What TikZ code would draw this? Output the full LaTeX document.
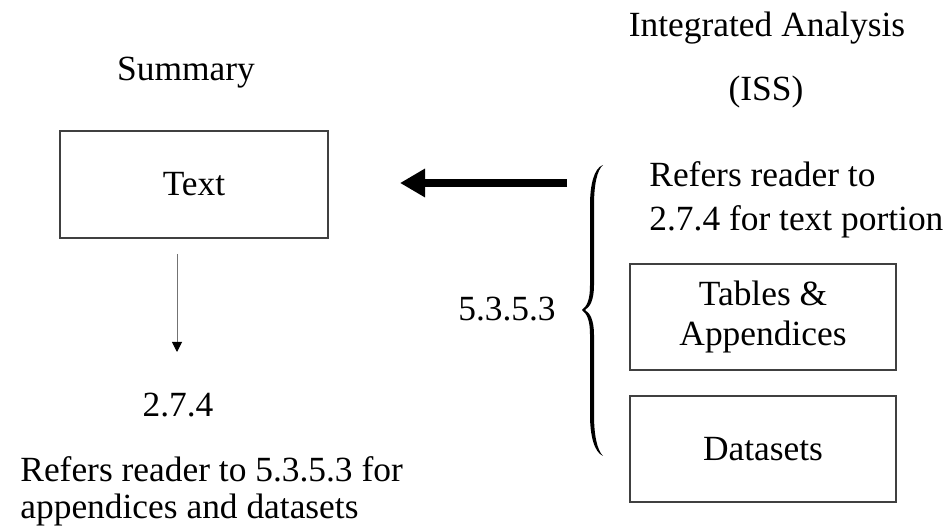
\documentclass[tikz,border=0pt]{standalone}
\usepackage{fontspec}
\setmainfont{Liberation Serif}
\usetikzlibrary{arrows.meta}
\tikzset{
  lbl/.style={inner sep=0pt, font=\fontsize{17.7pt}{22pt}\selectfont},
  boxnode/.style={draw=black!75, line width=0.75pt, inner sep=0pt, align=center,
    font=\fontsize{17.7pt}{20pt}\selectfont},
  thinarrow/.style={draw=black!55, line width=0.5pt, -{Triangle[length=5pt,width=5pt,fill=black,color=black]}},
  thickarrow/.style={line width=4pt, -{Triangle[length=12.5pt,width=13.5pt]}}
}
\begin{document}
\begin{tikzpicture}[x=0.5pt,y=-0.5pt]
\useasboundingbox (0,0) rectangle (952,528);
% left column
\node[lbl, anchor=base] (summary) at (186,81) {Summary};
\node[boxnode, minimum width=134pt, minimum height=53.5pt] (textbox) at (194,184.5) {Text};
\node[lbl, anchor=base] (n274) at (178,417) {2.7.4};
\node[lbl, anchor=base west, align=left, font=\fontsize{17.7pt}{18.5pt}\selectfont] (lrefers) at (20,518)
  {Refers reader to 5.3.5.3 for\\appendices and datasets};
\coordinate (dstart) at (177,254);
\coordinate (dend) at (177,352);
\draw[thinarrow] (dstart) -- (dend);
% right column
\node[lbl, anchor=base] (ia) at (767,37) {Integrated Analysis};
\node[lbl, anchor=base] (iss) at (766,101) {(ISS)};
\node[lbl, anchor=base west, align=left] (rrefers) at (649,231)
  {Refers reader to\\2.7.4 for text portion};
\node[lbl, anchor=base] (sec) at (507,321) {5.3.5.3};
\node[boxnode, minimum width=133pt, minimum height=53pt] (tables) at (763,317) {Tables \&\\Appendices};
\node[boxnode, minimum width=133pt, minimum height=53pt] (datasets) at (763,449) {Datasets};
% thick arrow
\coordinate (astart) at (567,183);
\coordinate (aend) at (400,183);
\draw[thickarrow] (astart) -- (aend);
% brace
\fill[black] (603,165) .. controls (594,168) and (590,185) .. (590,205) -- (590,285)
  .. controls (590,300) and (587,306) .. (582,310)
  .. controls (587,314) and (590,320) .. (590,335) -- (590,415)
  .. controls (590,435) and (594,452) .. (603,456)
  .. controls (597,450) and (594,435) .. (594,415) -- (594,335)
  .. controls (594,320) and (590,313) .. (585,310)
  .. controls (590,307) and (594,300) .. (594,285) -- (594,205)
  .. controls (594,185) and (597,170) .. (603,165) -- cycle;
\end{tikzpicture}
\end{document}
